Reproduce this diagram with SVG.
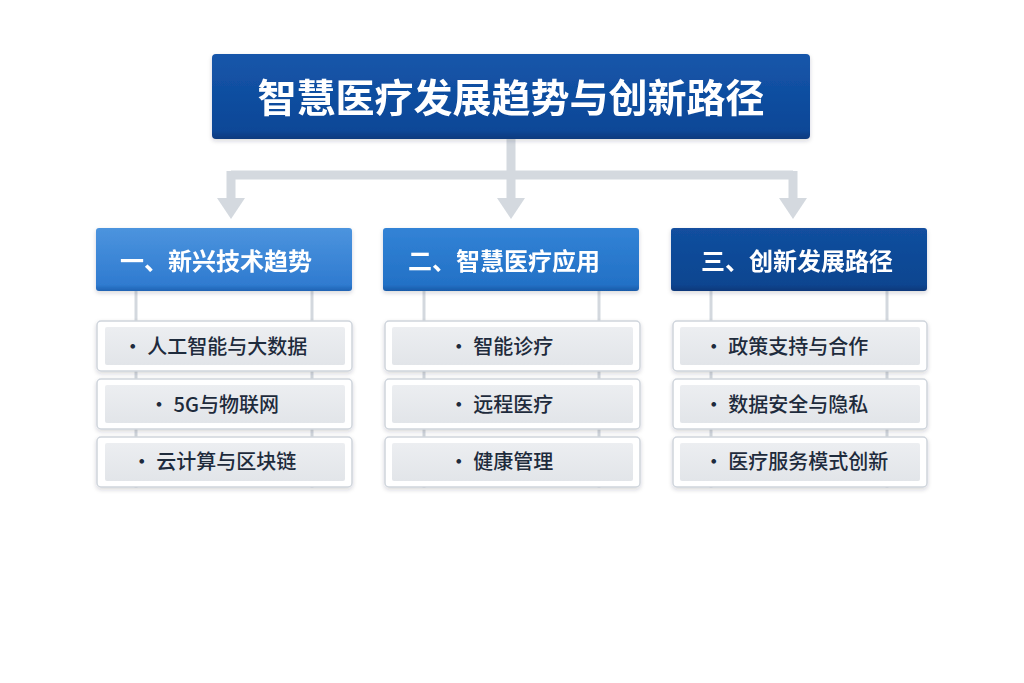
<svg xmlns="http://www.w3.org/2000/svg" width="1024" height="683" viewBox="0 0 1024 683">
<defs>
<linearGradient id="gTitle" x1="0" y1="0" x2="0" y2="1"><stop offset="0" stop-color="#1556AA"/><stop offset="0.9" stop-color="#0C4797"/><stop offset="1" stop-color="#093A7E"/></linearGradient>
<linearGradient id="g1" x1="0" y1="0" x2="0" y2="1"><stop offset="0" stop-color="#4C94DE"/><stop offset="0.9" stop-color="#2F7BD0"/><stop offset="1" stop-color="#1F63B3"/></linearGradient>
<linearGradient id="g2" x1="0" y1="0" x2="0" y2="1"><stop offset="0" stop-color="#3283D6"/><stop offset="0.9" stop-color="#2371C6"/><stop offset="1" stop-color="#195AA8"/></linearGradient>
<linearGradient id="g3" x1="0" y1="0" x2="0" y2="1"><stop offset="0" stop-color="#124F9F"/><stop offset="0.9" stop-color="#0C4590"/><stop offset="1" stop-color="#08387A"/></linearGradient>
<linearGradient id="gItem" x1="0" y1="0" x2="0" y2="1"><stop offset="0" stop-color="#ECEEF1"/><stop offset="1" stop-color="#E2E5E9"/></linearGradient>
<filter id="sh" x="-10%" y="-20%" width="120%" height="150%"><feDropShadow dx="0" dy="2" stdDeviation="2" flood-color="#1A2A40" flood-opacity="0.18"/></filter>
</defs>
<style>
.title{font-family:"Noto Sans CJK SC","Noto Sans",sans-serif;font-weight:700;font-size:39px;fill:#FFFFFF}
.head{font-family:"Noto Sans CJK SC","Noto Sans",sans-serif;font-weight:700;font-size:24px;fill:#FFFFFF}
.item{font-family:"Noto Sans CJK SC","Noto Sans",sans-serif;font-weight:500;font-size:20px;fill:#1E2B3C}
.outer{fill:#FFFFFF;stroke:#CFD5DC;stroke-width:1.5}
.inner{fill:url(#gItem)}
.conn{stroke:#D4D9DF;stroke-width:9;fill:none}
.arrow{fill:#D4D9DF}
.vline{stroke:#D3D8DE;stroke-width:3}
</style>
<rect width="1024" height="683" fill="#FFFFFF"/>

<g id="connectors">
<path class="conn" d="M511 139 V175 M231 175 H793 M231 171 V200 M511 175 V200 M793 171 V200"/>
<polygon class="arrow" points="217,198 245,198 231,219"/>
<polygon class="arrow" points="497,198 525,198 511,219"/>
<polygon class="arrow" points="779,198 807,198 793,219"/>
<line class="vline" x1="136" y1="290" x2="136" y2="488"/>
<line class="vline" x1="312" y1="290" x2="312" y2="488"/>
<line class="vline" x1="424" y1="290" x2="424" y2="488"/>
<line class="vline" x1="599" y1="290" x2="599" y2="488"/>
<line class="vline" x1="711" y1="290" x2="711" y2="488"/>
<line class="vline" x1="887" y1="290" x2="887" y2="488"/>
</g>

<g id="title" filter="url(#sh)">
<rect x="212" y="54" width="598" height="85" rx="4" fill="url(#gTitle)"/>
<text class="title" x="511" y="112" text-anchor="middle">智慧医疗发展趋势与创新路径</text>
</g>

<g id="col1-head" filter="url(#sh)">
<rect x="96" y="228" width="256" height="63" rx="3" fill="url(#g1)"/>
<text class="head" x="216" y="270" text-anchor="middle">一、新兴技术趋势</text>
</g>
<g id="col2-head" filter="url(#sh)">
<rect x="383" y="228" width="256" height="63" rx="3" fill="url(#g2)"/>
<text class="head" x="504" y="270" text-anchor="middle">二、智慧医疗应用</text>
</g>
<g id="col3-head" filter="url(#sh)">
<rect x="671" y="228" width="256" height="63" rx="3" fill="url(#g3)"/>
<text class="head" x="797" y="270" text-anchor="middle">三、创新发展路径</text>
</g>

<g id="c1-i1"><rect class="outer" x="97" y="321" width="255" height="50" rx="4" filter="url(#sh)"/><rect class="inner" x="105" y="327" width="240" height="38" rx="2"/><text class="item" x="215" y="354" text-anchor="middle">· 人工智能与大数据</text></g>
<g id="c1-i2"><rect class="outer" x="97" y="379" width="255" height="50" rx="4" filter="url(#sh)"/><rect class="inner" x="105" y="385" width="240" height="38" rx="2"/><text class="item" x="214" y="412" text-anchor="middle">· 5G与物联网</text></g>
<g id="c1-i3"><rect class="outer" x="97" y="437" width="255" height="50" rx="4" filter="url(#sh)"/><rect class="inner" x="105" y="443" width="240" height="38" rx="2"/><text class="item" x="214" y="469" text-anchor="middle">· 云计算与区块链</text></g>

<g id="c2-i1"><rect class="outer" x="385" y="321" width="255" height="50" rx="4" filter="url(#sh)"/><rect class="inner" x="392" y="327" width="241" height="38" rx="2"/><text class="item" x="501" y="354" text-anchor="middle">· 智能诊疗</text></g>
<g id="c2-i2"><rect class="outer" x="385" y="379" width="255" height="50" rx="4" filter="url(#sh)"/><rect class="inner" x="392" y="385" width="241" height="38" rx="2"/><text class="item" x="501" y="412" text-anchor="middle">· 远程医疗</text></g>
<g id="c2-i3"><rect class="outer" x="385" y="437" width="255" height="50" rx="4" filter="url(#sh)"/><rect class="inner" x="392" y="443" width="241" height="38" rx="2"/><text class="item" x="501" y="469" text-anchor="middle">· 健康管理</text></g>

<g id="c3-i1"><rect class="outer" x="673" y="321" width="254" height="50" rx="4" filter="url(#sh)"/><rect class="inner" x="680" y="327" width="240" height="38" rx="2"/><text class="item" x="786" y="354" text-anchor="middle">· 政策支持与合作</text></g>
<g id="c3-i2"><rect class="outer" x="673" y="379" width="254" height="50" rx="4" filter="url(#sh)"/><rect class="inner" x="680" y="385" width="240" height="38" rx="2"/><text class="item" x="786" y="412" text-anchor="middle">· 数据安全与隐私</text></g>
<g id="c3-i3"><rect class="outer" x="673" y="437" width="254" height="50" rx="4" filter="url(#sh)"/><rect class="inner" x="680" y="443" width="240" height="38" rx="2"/><text class="item" x="796" y="469" text-anchor="middle">· 医疗服务模式创新</text></g>
</svg>
